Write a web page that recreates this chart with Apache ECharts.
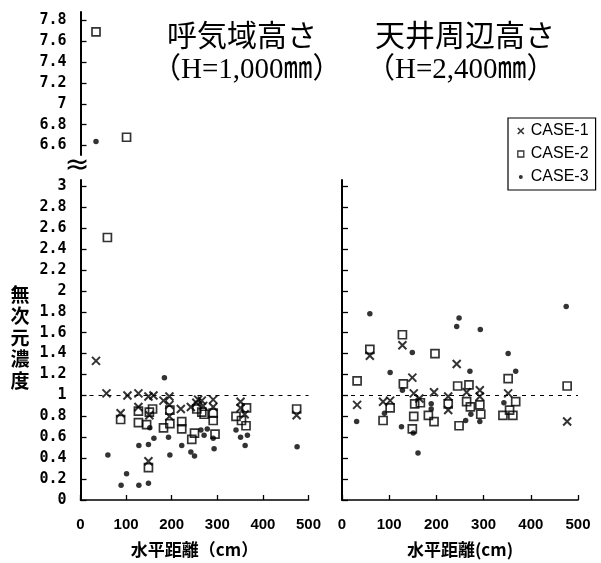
<!DOCTYPE html>
<html>
<head>
<meta charset="utf-8">
<script src="https://cdn.jsdelivr.net/npm/echarts@6/dist/echarts.min.js"></script>
<style>
html,body{margin:0;padding:0;background:#fff;}
#chart{width:601px;height:563px;}
</style>
</head>
<body>
<div id="chart"></div>
<script>
// ---- tick labels ----
const xTicks = [0, 100, 200, 300, 400, 500];
const yTicksLower = [0, 0.2, 0.4, 0.6, 0.8, 1, 1.2, 1.4, 1.6, 1.8, 2, 2.2, 2.4, 2.6, 2.8, 3];
const yTicksUpper = [6.6, 6.8, 7, 7.2, 7.4, 7.6, 7.8];
const seriesNames = ['CASE-1', 'CASE-2', 'CASE-3'];
const panelTitles = ['呼気域高さ', '天井周辺高さ'];
const panelSubtitles = ['（H=1,000㎜）', '（H=2,400㎜）'];

// ---- 呼気域高さ (H=1,000mm): [水平距離 cm, 無次元濃度] ----
const case1Breath = [[34,1.33],[57,1.02],[88,0.83],[103,1.0],[127,1.02],[127,0.89],[149,0.99],[160,1.0],
  [151,0.81],[149,0.37],[182,0.95],[195,0.99],[195,0.91],[195,0.80],[220,0.87],[242,0.89],[254,0.93],
  [258,0.96],[266,0.95],[269,0.90],[291,0.96],[291,0.89],[351,0.94],[351,0.88],[360,0.82],[474,0.81]];
const case2Breath = [[34,7.69],[101,6.68],[59,2.51],[88,0.77],[127,0.85],[127,0.74],[145,0.72],[151,0.84],
  [158,0.87],[149,0.31],[182,0.69],[196,0.86],[196,0.73],[222,0.75],[222,0.68],[244,0.58],[250,0.64],
  [255,0.87],[266,0.84],[271,0.82],[291,0.83],[291,0.76],[295,0.63],[341,0.80],[353,0.76],[364,0.88],
  [363,0.71],[474,0.87]];
const case3Breath = [[34,6.64],[60,0.43],[89,0.14],[101,0.25],[128,0.52],[128,0.14],[149,0.53],[149,0.16],
  [152,0.69],[161,0.59],[184,1.17],[193,0.60],[196,0.43],[222,0.52],[242,0.46],[250,0.42],[264,0.67],
  [271,0.62],[278,0.68],[291,0.59],[293,0.49],[341,0.67],[351,0.60],[366,0.62],[361,0.52],[475,0.51]];

// ---- 天井周辺高さ (H=2,400mm) ----
const case1Ceiling = [[32,0.91],[59,1.38],[87,0.94],[102,0.95],[128,1.48],[149,1.17],[152,1.02],[164,0.97],
  [195,1.03],[225,0.99],[225,0.86],[243,1.30],[264,1.03],[292,1.05],[292,0.99],[352,1.02],[477,0.75]];
const case2Ceiling = [[32,1.14],[59,1.44],[87,0.76],[102,0.88],[128,1.58],[130,1.11],[149,0.68],[152,0.80],
  [154,0.92],[166,0.93],[183,0.81],[197,1.40],[195,0.75],[225,0.92],[245,1.09],[269,1.10],[264,0.94],
  [272,0.89],[248,0.71],[292,0.91],[294,0.82],[352,1.16],[368,0.94],[355,0.86],[341,0.81],[362,0.81],
  [477,1.09]];
const case3Ceiling = [[31,0.75],[59,1.78],[90,0.83],[102,1.22],[128,1.05],[126,0.70],[149,1.41],[151,0.64],
  [161,0.45],[189,0.92],[189,0.87],[243,1.66],[248,1.74],[271,1.23],[262,0.76],[273,0.82],[293,1.63],
  [292,0.75],[343,0.93],[352,1.40],[368,1.23],[475,1.85]];

const BREAK = 4; // values above are drawn in the upper (broken) axis

const crossPath = 'path://M0,0L10,10M10,0L0,10';
const markStyles = [
  { symbol: crossPath, symbolSize: 8, itemStyle: { color: 'rgba(0,0,0,0)', borderColor: '#000', borderWidth: 2 } },
  { symbol: 'rect', symbolSize: 8, itemStyle: { color: 'rgba(0,0,0,0)', borderColor: '#000', borderWidth: 1.7 } },
  { symbol: 'circle', symbolSize: 5.5, itemStyle: { color: '#000' } }
];

const refLine = {
  silent: true, symbol: 'none', label: { show: false },
  lineStyle: { color: '#000', type: [4, 5], width: 1.2 },
  data: [{ yAxis: 1 }]
};

const breathSets = [case1Breath, case2Breath, case3Breath];
const ceilingSets = [case1Ceiling, case2Ceiling, case3Ceiling];
const series = [];
seriesNames.forEach((name, i) => {
  const st = markStyles[i];
  series.push(Object.assign({ type: 'scatter', name, xAxisIndex: 0, yAxisIndex: 0,
    data: breathSets[i].filter(d => d[1] > BREAK) }, st));
  series.push(Object.assign({ type: 'scatter', name, xAxisIndex: 1, yAxisIndex: 1,
    data: breathSets[i].filter(d => d[1] <= BREAK), markLine: i === 0 ? refLine : undefined }, st));
  series.push(Object.assign({ type: 'scatter', name, xAxisIndex: 2, yAxisIndex: 2,
    data: ceilingSets[i], markLine: i === 0 ? refLine : undefined }, st));
});

const tickFont = { fontFamily: 'DejaVu Sans Mono', fontWeight: 'bold', fontSize: 15, color: '#000' };
const fmt = v => String(Math.round(v * 10) / 10);

function xAx(gi, show) {
  return {
    type: 'value', gridIndex: gi, min: xTicks[0], max: xTicks[xTicks.length - 1], interval: 100, show: show,
    axisLine: { show: true, onZero: false, lineStyle: { color: '#000', width: 1.6 } },
    axisTick: { show: true, inside: true, length: 5, lineStyle: { color: '#000', width: 1.3 } },
    axisLabel: { show: true, margin: 17, fontFamily: 'Liberation Sans', fontWeight: 'bold', fontSize: 15, color: '#000' },
    splitLine: { show: false },
    name: gi === 1 ? '水平距離（cm）' : '水平距離(cm)',
    nameLocation: 'middle', nameGap: 41,
    nameTextStyle: { fontFamily: 'Noto Sans CJK JP', fontWeight: 'bold', fontSize: 17, color: '#000' }
  };
}
function yAx(gi, min, max, ticks, showLabel) {
  return {
    type: 'value', gridIndex: gi, min: min, max: max,
    axisLine: { show: true, onZero: false, lineStyle: { color: '#000', width: 2 } },
    axisTick: { show: true, inside: true, length: 6, customValues: ticks, lineStyle: { color: '#000', width: 1.3 } },
    axisLabel: Object.assign({ show: showLabel, margin: 14, customValues: ticks, formatter: fmt }, tickFont),
    splitLine: { show: false }
  };
}

const chart = echarts.init(document.getElementById('chart'), null, { renderer: 'canvas' });
chart.setOption({
  backgroundColor: '#fff',
  animation: false,
  grid: [
    { left: 80.5, top: 12, width: 228, height: 143 },
    { left: 80.5, top: 180, width: 228, height: 322 },
    { left: 342, top: 180, width: 236, height: 322 }
  ],
  xAxis: [xAx(0, false), xAx(1, true), xAx(2, true)],
  yAxis: [
    yAx(0, 6.51, 7.88, yTicksUpper, true),
    yAx(1, 0, 3.06, yTicksLower, true),
    yAx(2, 0, 3.06, yTicksLower, false)
  ],
  legend: {
    orient: 'vertical', left: 508, top: 118,
    borderColor: '#000', borderWidth: 1.2, padding: [5, 7, 5, 7],
    itemGap: 7, itemWidth: 10, itemHeight: 10,
    textStyle: { fontFamily: 'Liberation Sans', fontSize: 16, color: '#000' },
    data: [
      { name: 'CASE-1', icon: 'path://M0,0M10,10M2,2L8,8M8,2L2,8', itemStyle: { color: 'rgba(0,0,0,0)', borderColor: '#000', borderWidth: 1.6 } },
      { name: 'CASE-2', icon: 'path://M0,0M10,10M2,2H8V8H2Z', itemStyle: { color: 'rgba(0,0,0,0)', borderColor: '#000', borderWidth: 1.3 } },
      { name: 'CASE-3', icon: 'path://M0,0M10,10M3,5A2,2,0,1,1,7,5A2,2,0,1,1,3,5Z', itemStyle: { color: '#000', borderWidth: 0 } }
    ],
    selectedMode: false
  },
  graphic: [
    { type: 'text', left: 167, top: 20, style: { text: panelTitles[0], font: '30px "Noto Sans CJK JP"', fill: '#000' } },
    { type: 'text', left: 152, top: 56, style: { text: panelSubtitles[0], font: '29px "Liberation Serif","Noto Sans CJK JP"', fill: '#000' } },
    { type: 'text', left: 375, top: 20, style: { text: panelTitles[1], font: '30px "Noto Sans CJK JP"', fill: '#000' } },
    { type: 'text', left: 366, top: 56, style: { text: panelSubtitles[1], font: '29px "Liberation Serif","Noto Sans CJK JP"', fill: '#000' } },
    { type: 'text', x: 20, y: 284, style: { text: '無\n次\n元\n濃\n度', font: 'bold 19px "Noto Sans CJK JP"', lineHeight: 21.5, align: 'center', verticalAlign: 'top', fill: '#000' } },
    { type: 'text', x: 77, y: 166, style: { text: '≈', font: '30px "DejaVu Sans"', align: 'center', verticalAlign: 'middle', fill: '#000' } }
  ],
  series: series
});
</script>
</body>
</html>
